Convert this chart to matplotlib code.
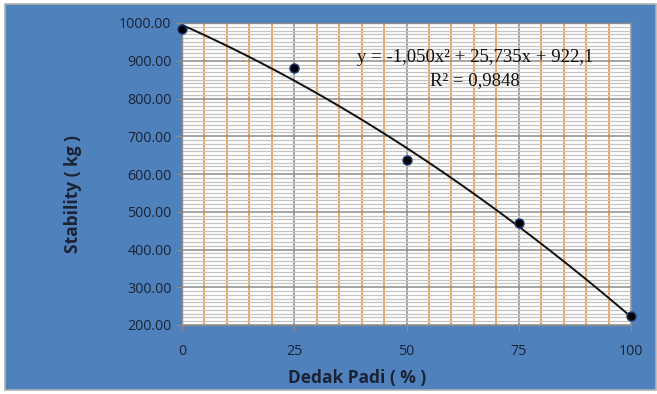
import matplotlib.pyplot as plt
import matplotlib
import numpy as np
from matplotlib.patches import Rectangle
from matplotlib.ticker import MultipleLocator

matplotlib.rcParams['font.family'] = ['Open Sans', 'DejaVu Sans']

# data
dedak_padi = [0, 25, 50, 75, 100]
stability = [983, 882, 637, 469, 223]
x_ticks = [0, 25, 50, 75, 100]
y_ticks = [200, 300, 400, 500, 600, 700, 800, 900, 1000]
eq_text = 'y = -1,050x² + 25,735x + 922,1'
r2_text = 'R² = 0,9848'

blue_bg = '#4f81bd'
text_col = '#1b2233'

fig = plt.figure(figsize=(6.57, 3.94), dpi=100)
fig.patch.set_facecolor('white')

# blue chart area with a thin grey frame
fig.patches.append(Rectangle((5 / 657, 4 / 394), 651 / 657, 386 / 394,
                             transform=fig.transFigure, facecolor=blue_bg,
                             edgecolor='#b0b0b0', linewidth=1.2, zorder=-5))

ax = fig.add_axes([182 / 657, 1 - 325 / 394, 449 / 657, 302 / 394])
ax.set_facecolor('white')

ax.set_xlim(0, 100)
ax.set_ylim(200, 1000)
ax.set_xticks(x_ticks)
ax.set_yticks(y_ticks)
ax.xaxis.set_minor_locator(MultipleLocator(5))
ax.yaxis.set_minor_locator(MultipleLocator(10))

# grid lines
ax.grid(which='minor', axis='x', color='#f99a40', linewidth=1.3)
ax.grid(which='minor', axis='y', color='#c4c4c4', linewidth=0.9)
ax.grid(which='major', axis='both', color='#8c8c8c', linewidth=1.1)
ax.set_axisbelow(True)

for sp in ax.spines.values():
    sp.set_color('#8c8c8c')
    sp.set_linewidth(1.0)

ax.tick_params(which='major', length=4, color='#8c8c8c', labelcolor=text_col,
               labelsize=10.3)
ax.tick_params(which='minor', length=0)
ax.tick_params(axis='x', pad=10)
ax.set_yticklabels([f'{v:.2f}' for v in y_ticks])
ax.set_xticklabels([str(v) for v in x_ticks])

# polynomial trend line through the points
coef = np.polyfit(dedak_padi, stability, 2)
xs = np.linspace(0, 100, 200)
ax.plot(xs, np.polyval(coef, xs), color='#111111', linewidth=1.4, zorder=3)

ax.plot(dedak_padi, stability, 'o', color='black', markersize=6.5,
        markeredgecolor='#1d3d72', markeredgewidth=1.0, zorder=4,
        clip_on=False)

ax.text(0.652, 0.885, eq_text, transform=ax.transAxes, ha='center',
        va='center', fontsize=13.5, family='Liberation Serif', color='#111111')
ax.text(0.652, 0.81, r2_text, transform=ax.transAxes, ha='center',
        va='center', fontsize=13.5, family='Liberation Serif', color='#111111')

fig.text(357 / 657, 1 - 378 / 394, 'Dedak Padi ( % )', ha='center',
         va='center', fontsize=12.5, fontweight='bold', color=text_col)
fig.text(73 / 657, 1 - 194 / 394, 'Stability ( kg )', ha='center',
         va='center', rotation=90, fontsize=12.5, fontweight='bold',
         color=text_col)

fig.savefig('out.png', dpi=100)
